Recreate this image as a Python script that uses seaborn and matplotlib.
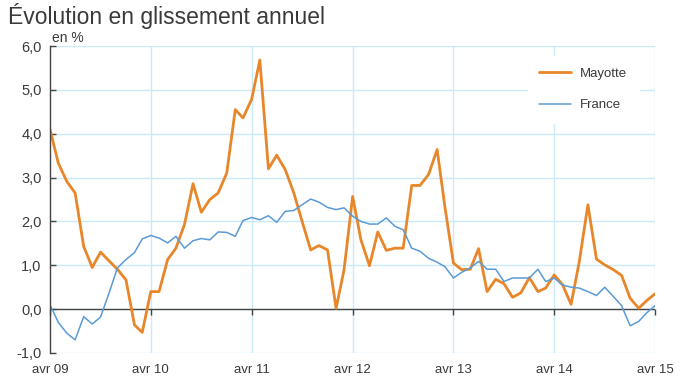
import numpy as np
import pandas as pd
import matplotlib
matplotlib.use('Agg')
import matplotlib.pyplot as plt
import seaborn as sns

# monthly data, avr 2009 -> avr 2015
months = pd.date_range('2009-04-01', periods=73, freq='MS')

mayotte = [4.1, 3.33, 2.91, 2.65, 1.43, 0.95, 1.30, 1.10, 0.91, 0.67, -0.36, -0.53,
           0.40, 0.40, 1.13, 1.39, 1.93, 2.86, 2.21, 2.50, 2.65, 3.10, 4.55, 4.36,
           4.78, 5.68, 3.20, 3.51, 3.18, 2.65, 2.00, 1.35, 1.45, 1.35, 0.02, 0.90,
           2.57, 1.58, 0.99, 1.76, 1.34, 1.39, 1.39, 2.82, 2.82, 3.07, 3.64, 2.34,
           1.05, 0.90, 0.91, 1.38, 0.40, 0.68, 0.58, 0.27, 0.37, 0.72, 0.40, 0.48,
           0.78, 0.56, 0.11, 1.09, 2.38, 1.14, 1.01, 0.90, 0.77, 0.25, 0.02, 0.19,
           0.35]

france = [0.10, -0.30, -0.55, -0.70, -0.17, -0.34, -0.18, 0.37, 0.94, 1.13, 1.29, 1.60,
          1.68, 1.62, 1.51, 1.66, 1.39, 1.56, 1.61, 1.58, 1.76, 1.75, 1.66, 2.02,
          2.09, 2.04, 2.13, 1.98, 2.23, 2.25, 2.38, 2.51, 2.44, 2.32, 2.27, 2.31,
          2.12, 2.00, 1.94, 1.94, 2.08, 1.89, 1.81, 1.39, 1.32, 1.16, 1.07, 0.97,
          0.71, 0.84, 0.94, 1.09, 0.91, 0.91, 0.63, 0.71, 0.71, 0.71, 0.91, 0.63,
          0.71, 0.55, 0.50, 0.48, 0.40, 0.31, 0.50, 0.29, 0.08, -0.38, -0.28, -0.09,
          0.08]

year_ticks = pd.date_range('2009-04-01', periods=7, freq='12MS')
year_labels = ['avr 09', 'avr 10', 'avr 11', 'avr 12', 'avr 13', 'avr 14', 'avr 15']
y_ticks = [-1, 0, 1, 2, 3, 4, 5, 6]

orange = '#E8862A'
blue = '#5B9BD5'
grid_c = '#C9EAF7'
text_c = '#3A3A3A'

sns.set_theme(style='white')
plt.rcParams['font.family'] = ['Liberation Sans', 'DejaVu Sans']

fig = plt.figure(figsize=(6.96, 3.85), dpi=100)
ax = fig.add_axes([50 / 696, 1 - 353 / 385, 605 / 696, 307 / 385])

df = pd.DataFrame({'mois': months, 'Mayotte': mayotte, 'France': france})
sns.lineplot(data=df, x='mois', y='Mayotte', color=orange, linewidth=2.0, ax=ax, label='Mayotte')
sns.lineplot(data=df, x='mois', y='France', color=blue, linewidth=1.1, ax=ax, label='France')

ax.set_xlim(months[0], months[-1])
ax.set_ylim(-1, 6)

# grid
for t in year_ticks[1:]:
    ax.axvline(t, color=grid_c, lw=1.0, zorder=0)
for v in y_ticks:
    ax.axhline(v, color=grid_c, lw=1.0, zorder=0)
ax.axhline(0, color='#444444', lw=1.0, zorder=1)

for s in ['top', 'right']:
    ax.spines[s].set_visible(False)
ax.spines['left'].set_color('#444444')
ax.spines['left'].set_linewidth(1.0)
ax.spines['bottom'].set_position(('data', 0))
ax.spines['bottom'].set_visible(False)

ax.set_yticks(y_ticks)
ax.set_yticklabels([f'{v:.1f}'.replace('.', ',') for v in y_ticks])
ax.tick_params(axis='y', direction='in', length=4, width=1, color='#444444',
               labelsize=10.5, labelcolor=text_c, pad=6, left=True)

ax.set_xticks(year_ticks)
ax.tick_params(axis='x', direction='out', length=4, width=1, color='#444444',
               labelbottom=False, bottom=True)

sec = ax.secondary_xaxis('bottom')
sec.set_xticks(year_ticks)
sec.set_xticklabels(year_labels)
sec.tick_params(length=0, labelsize=9.5, labelcolor=text_c, pad=8)
sec.spines['bottom'].set_visible(False)

ax.set_xlabel('')
ax.set_ylabel('')

ax.text(0.003, 1.003, 'en %', transform=ax.transAxes, fontsize=10, color=text_c,
        ha='left', va='bottom')

leg = ax.legend(loc='upper right', bbox_to_anchor=(0.985, 0.99), frameon=True,
                fontsize=9.5, handlelength=2.4, labelspacing=1.45, borderpad=0.9,
                handletextpad=0.7)
leg.get_frame().set_facecolor('white')
leg.get_frame().set_edgecolor('white')
leg.get_frame().set_alpha(1)
for t in leg.get_texts():
    t.set_color(text_c)

fig.text(8 / 696, 1 - 3 / 385, 'Évolution en glissement annuel', fontsize=16.5,
         color=text_c, ha='left', va='top')

fig.savefig('out.png', dpi=100)
